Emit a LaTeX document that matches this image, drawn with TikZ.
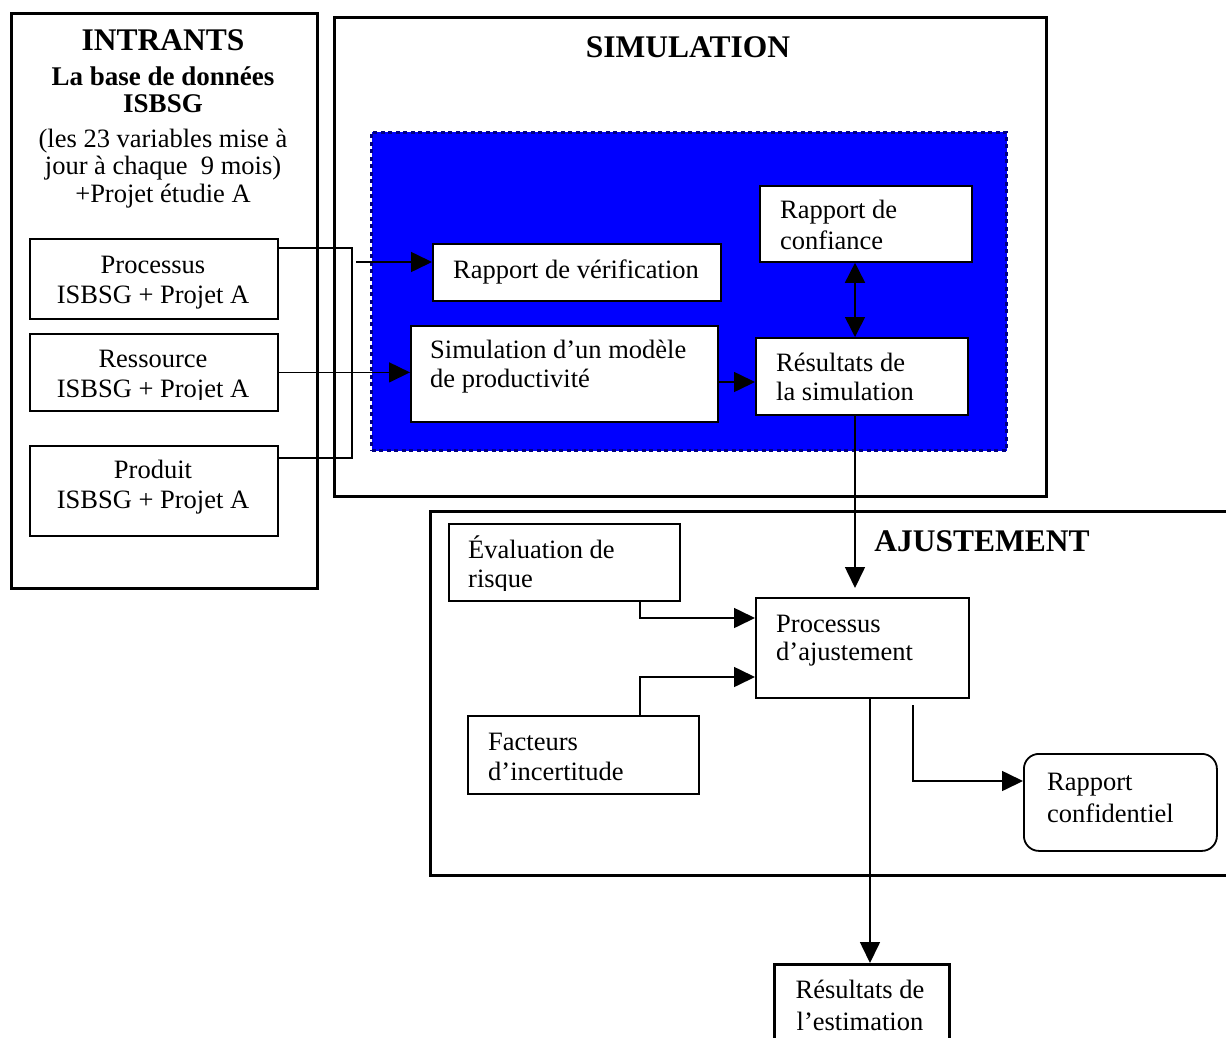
\documentclass[tikz,border=0pt]{standalone}
\usepackage{fontspec}
\setmainfont{Liberation Serif}
\usetikzlibrary{arrows.meta}
\definecolor{navyb}{RGB}{0,0,128}
\definecolor{pureblue}{RGB}{0,0,255}
\newcommand{\bodyfont}{\fontsize{26.5}{30}\selectfont}
\newcommand{\titlefont}{\fontsize{31.5}{36}\selectfont\bfseries}
\newcommand{\boldbody}{\fontsize{27}{30}\selectfont\bfseries}
\begin{document}
\begin{tikzpicture}[x=1pt,y=-1pt,
  outerbox/.style={draw, line width=3pt, inner sep=0, anchor=north west},
  inbox/.style={draw, line width=1.8pt, fill=white, inner sep=0, anchor=north west},
  conn/.style={line width=1.6pt, -{Triangle[length=21pt,width=20pt]}},
  dconn/.style={line width=1.6pt, {Triangle[length=20pt,width=20pt]}-{Triangle[length=20pt,width=20pt]}},
  plainline/.style={line width=1.6pt},
  tl/.style={inner sep=0, anchor=base west, font=\bodyfont},
  tc/.style={inner sep=0, anchor=base, font=\bodyfont},
  ttl/.style={inner sep=0, anchor=base, font=\titlefont},
  tb/.style={inner sep=0, anchor=base, font=\boldbody}]
\useasboundingbox (0,0) rectangle (1226,1038);
\fill[white] (0,0) rectangle (1226,1038);

% outer frames
\node[outerbox, minimum width=306pt, minimum height=575pt] (intr) at (10,12) {};
\node[outerbox, minimum width=712pt, minimum height=479pt] (sim) at (333,16) {};
\node[outerbox, minimum width=811pt, minimum height=364pt] (ajust) at (429,510) {};
\node[anchor=north west, inner sep=0, fill=pureblue, draw=navyb, line width=3pt,
      dash pattern=on 4pt off 3.5pt, minimum width=635pt, minimum height=318pt] (blue) at (370,131) {};

% inner boxes
\node[inbox, minimum width=248pt, minimum height=80pt] (proc) at (29,238) {};
\node[inbox, minimum width=248pt, minimum height=77pt] (ress) at (29,333) {};
\node[inbox, minimum width=248pt, minimum height=90pt] (prod) at (29,445) {};
\node[inbox, minimum width=288pt, minimum height=57pt] (verif) at (432,243) {};
\node[inbox, minimum width=307pt, minimum height=96pt] (simmod) at (410,325) {};
\node[inbox, minimum width=212pt, minimum height=76pt] (conf) at (759,185) {};
\node[inbox, minimum width=212pt, minimum height=77pt] (ressim) at (755,337) {};
\node[inbox, minimum width=231pt, minimum height=77pt] (eval) at (448,523) {};
\node[inbox, minimum width=231pt, minimum height=78pt] (fact) at (467,715) {};
\node[inbox, minimum width=213pt, minimum height=100pt] (pajust) at (755,597) {};
\node[inbox, rounded corners=15pt, minimum width=193pt, minimum height=97pt] (rconf) at (1023,753) {};
\node[inbox, line width=3pt, minimum width=175pt, minimum height=100pt] (rest) at (773,963) {};

% connector helper coordinates
\coordinate (b1) at (352,248);
\coordinate (b2) at (352,458);
\coordinate (vstart) at (356,262);
\coordinate (sr) at (717,382);
\coordinate (da) at (855,0);
\coordinate (ev1) at (640,618);
\coordinate (fa1) at (640,677);
\coordinate (tipa) at (855,588);
\coordinate (rc0) at (913,705);
\coordinate (rc1) at (913,781);
\coordinate (dn) at (870,0);

% connectors
\draw[plainline] ([yshift=-10pt]proc.north east) -- (b1) -- (b2) -- (prod.east |- b2);
\draw[conn] (ress.east) -- (simmod.west |- ress.east);
\draw[conn] (vstart) -- (verif.west |- vstart);
\draw[conn] (sr -| simmod.east) -- (sr -| ressim.west);
\draw[dconn] (da |- conf.south) -- (da |- ressim.north);
\draw[conn] (da |- ressim.south) -- (tipa);
\draw[conn] (ev1 |- eval.south) -- (ev1) -- (ev1 -| pajust.west);
\draw[conn] (fa1 |- fact.north) -- (fa1) -- (fa1 -| pajust.west);
\draw[conn] (rc0) -- (rc1) -- (rc1 -| rconf.west);
\draw[conn] (dn |- pajust.south) -- (dn |- rest.north);

% texts: INTRANTS
\node[ttl] (t-intr) at (163,51) {INTRANTS};
\node[tb] (t-base1) at (163,86) {La base de données};
\node[tb] (t-base2) at (163,113) {ISBSG};
\node[tc] (t-var1) at (163,147) {(les 23 variables mise à};
\node[tc] (t-var2) at (163,174.5) {jour à chaque\ \ 9 mois)};
\node[tc] (t-var3) at (163,202) {+Projet étudie A};
\node[tc] (t-proc1) at (153,273) {Processus};
\node[tc] (t-proc2) at (153,303) {ISBSG + Projet A};
\node[tc] (t-ress1) at (153,367) {Ressource};
\begin{scope}
\clip (0,0) rectangle (1226,399);
\node[tc] (t-ress2) at (153,397) {ISBSG + Projet A};
\end{scope}
\node[tc] (t-prod1) at (153,478) {Produit};
\node[tc] (t-prod2) at (153,508) {ISBSG + Projet A};

% SIMULATION
\node[ttl] (t-sim) at (688,58) {SIMULATION};
\node[tc] (t-verif) at (576,278) {Rapport de vérification};
\node[tl] (t-sm1) at (430,358) {Simulation d’un modèle};
\node[tl] (t-sm2) at (430,387) {de productivité};
\node[tl] (t-conf1) at (780,218) {Rapport de};
\node[tl] (t-conf2) at (780,249) {confiance};
\node[tl] (t-rs1) at (776,371) {Résultats de};
\node[tl] (t-rs2) at (776,400) {la simulation};

% AJUSTEMENT
\node[ttl] (t-aj) at (982,551) {AJUSTEMENT};
\node[tl] (t-ev1) at (468,558) {Évaluation de};
\begin{scope}
\clip (0,0) rectangle (1226,590);
\node[tl] (t-ev2) at (468,587) {risque};
\end{scope}
\node[tl] (t-pa1) at (776,632) {Processus};
\node[tl] (t-pa2) at (776,660) {d’ajustement};
\node[tl] (t-fa1) at (488,750) {Facteurs};
\node[tl] (t-fa2) at (488,780) {d’incertitude};
\node[tl] (t-rc1) at (1047,790) {Rapport};
\node[tl] (t-rc2) at (1047,822) {confidentiel};
\node[tc] (t-re1) at (860,998) {Résultats de};
\node[tc] (t-re2) at (860,1030) {l’estimation};
\end{tikzpicture}
\end{document}
